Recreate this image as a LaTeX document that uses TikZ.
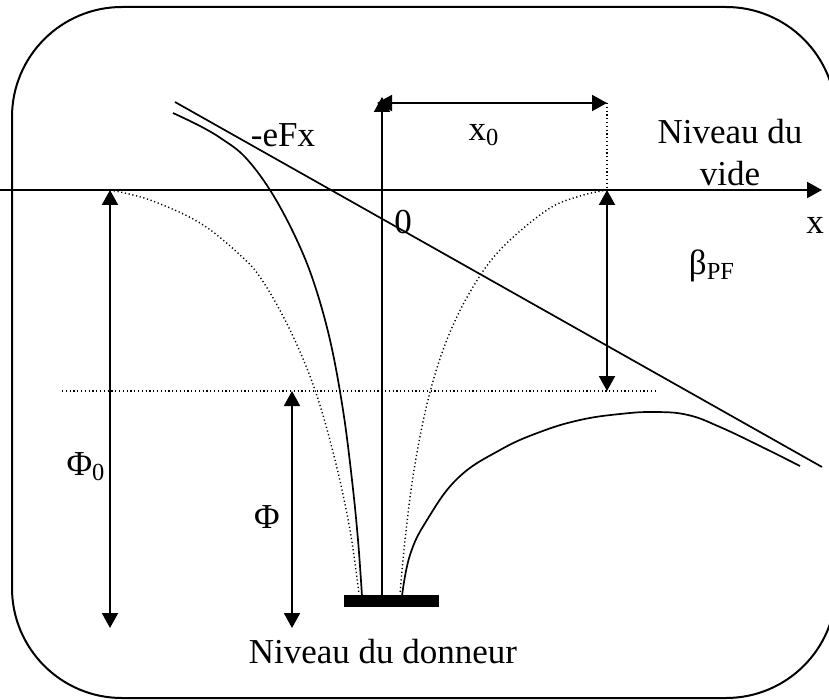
\documentclass[tikz,border=0pt]{standalone}
\usepackage{fontspec}
\setmainfont{Liberation Serif}
\usetikzlibrary{arrows.meta}
\begin{document}
\begin{tikzpicture}[x=0.5pt,y=-0.5pt,
  lbl/.style={inner sep=0pt, font=\fontsize{17.5}{21}\selectfont},
  solidline/.style={line width=1pt},
  thinline/.style={line width=0.85pt},
  dotline/.style={line width=0.7pt, dash pattern=on 0.6pt off 1.3pt},
  tipend/.style={-{Triangle[length=7.5pt,width=8pt]}},
  tipboth/.style={{Triangle[length=7.5pt,width=8pt]}-{Triangle[length=7.5pt,width=8pt]}}
]
\useasboundingbox (0,0) rectangle (829,700);
\clip (0,0) rectangle (829,700);
% frame
\draw[solidline, rounded corners=55pt] (12,7) rectangle (836,698);
% coordinates
\coordinate (axL) at (0,190);
\coordinate (axR) at (822,190);
\coordinate (vB) at (382,595);
\coordinate (vT) at (382,97);
\coordinate (x0L) at (377,103);
\coordinate (x0R) at (607,103);
\coordinate (P) at (607,190);
\coordinate (Pb) at (607,391);
\coordinate (F0t) at (110,190);
\coordinate (F0b) at (110,628);
\coordinate (Ft) at (292,391);
\coordinate (Fb) at (292,628);
\coordinate (dl) at (62,391);
\coordinate (dr) at (657,391);
\coordinate (eA) at (175,102);
\coordinate (eB) at (822,467);
% axes
\draw[solidline, tipend] (axL) -- (axR);
\draw[solidline, tipend] (vB) -- (vT);
\draw[solidline, tipboth] (x0L) -- (x0R);
\draw[dotline] (x0R) -- (P);
\draw[dotline] (dl) -- (dr);
\draw[solidline, tipboth] (P) -- (Pb);
\draw[solidline, tipboth] (F0t) -- (F0b);
\draw[solidline, tipboth] (Ft) -- (Fb);
% -eFx line
\draw[thinline] (eA) -- (eB);
% dotted curves
\draw[dotline] plot[smooth, tension=0.6] coordinates {(110,190) (150,200) (200,223) (240,255) (262,280) (290,330) (315,390) (335,460) (350,530) (359,594)};
\draw[dotline] plot[smooth, tension=0.6] coordinates {(607,190) (580,196) (547,210) (500,250) (470,292) (446,342) (428,400) (414,470) (405,540) (400,594)};
% solid curves
\draw[thinline] plot[smooth, tension=0.6] coordinates {(173,113) (200,126) (222,139) (245,157) (270,190) (294,234) (313,280) (330,340) (343,410) (352,480) (358,540) (362,596)};
\draw[thinline] plot[smooth, tension=0.7] coordinates {(402,596) (410,555) (427,520) (458,478) (500,450) (540,432) (580,420) (620,414) (655,412) (688,415) (720,427) (760,446) (800,466)};
% bar
\fill (344,595) rectangle (439,607);
% labels
\node[lbl] (eFx) at (283,135) {-eFx};
\node[lbl] (xz) at (484,135) {x\textsubscript{0}};
\node[lbl, align=center] (vide) at (730,153) {Niveau du\\vide};
\node[lbl] (xl) at (815,225) {x};
\node[lbl] (zero) at (403,222) {0};
\node[lbl] (beta) at (712,266) {β\textsubscript{PF}};
\node[lbl] (phi0) at (86,467) {Φ\textsubscript{0}};
\node[lbl] (phi) at (267,517) {Φ};
\node[lbl] (don) at (383,652) {Niveau du donneur};
\end{tikzpicture}
\end{document}
